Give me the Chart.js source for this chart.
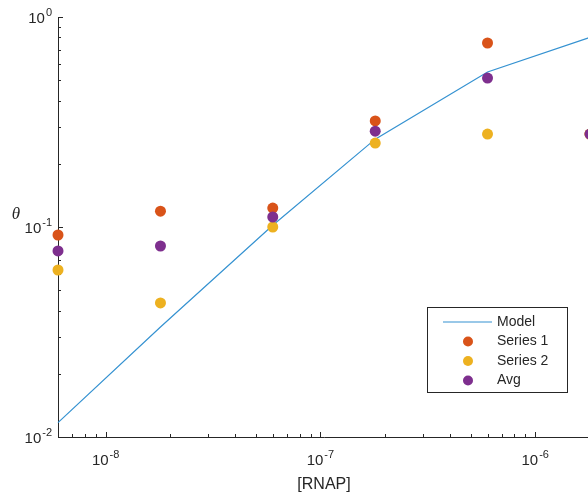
<!DOCTYPE html>
<html>
<head>
<meta charset="utf-8">
<script src="https://cdn.jsdelivr.net/npm/chart.js@4"></script>
<style>
  html, body { margin: 0; padding: 0; background: #fff; overflow: hidden; }
  #wrap { width: 600px; height: 497px; }
</style>
</head>
<body>
<div id="wrap"><canvas id="thetaChart" width="600" height="497"></canvas></div>
<script>
/* Data */
const rnap = [6e-9, 1.8e-8, 6e-8, 1.8e-7, 6e-7, 1.8e-6];
const model = [0.0117, 0.0334, 0.102, 0.262, 0.547, 0.80];
const series1 = [0.0916, 0.119, 0.123, 0.320, 0.752, 0.277];
const series2 = [0.0624, 0.0435, 0.100, 0.251, 0.277, 0.277];
const avg = [0.0769, 0.0812, 0.1116, 0.286, 0.512, 0.277];

const xTicks = [-8, -7, -6];
const yTicks = [-2, -1, 0];

const C_MODEL = '#3592d1';
const C_S1 = '#D95319';
const C_S2 = '#EDB120';
const C_AVG = '#7E2F8E';
const INK = '#262626';

const pts = (ys) => rnap.map((x, i) => ({x: x, y: ys[i]}));

// draws 10^n with a raised exponent; align = 'center' | 'right'
function drawPow(ctx, n, x, y, align) {
    const base = '10', exp = String(n);
    ctx.font = '15px "Liberation Sans", Arial, sans-serif';
    const wb = ctx.measureText(base).width;
    ctx.font = '11px "Liberation Sans", Arial, sans-serif';
    const we = ctx.measureText(exp).width;
    const w = wb + we + 1;
    let x0 = align === 'right' ? x - w : x - w / 2;
    ctx.fillStyle = INK;
    ctx.textAlign = 'left';
    ctx.textBaseline = 'alphabetic';
    ctx.font = '15px "Liberation Sans", Arial, sans-serif';
    ctx.fillText(base, x0, y);
    ctx.font = '11px "Liberation Sans", Arial, sans-serif';
    ctx.fillText(exp, x0 + wb + 1, y - 7);
}

const axesPlugin = {
    id: 'matlabAxes',
    beforeDatasetsDraw(chart) {
        const {ctx, chartArea: a, scales: {x, y}} = chart;
        ctx.save();
        ctx.strokeStyle = INK;
        ctx.lineWidth = 1;
        ctx.beginPath();
        ctx.moveTo(a.left + 0.5, a.top);
        ctx.lineTo(a.left + 0.5, a.bottom + 0.5);
        ctx.lineTo(a.right, a.bottom + 0.5);
        ctx.stroke();
        // ticks (inward), major + minor
        ctx.beginPath();
        for (let e = -9; e <= -5; e++) {
            for (let m = 1; m <= 9; m++) {
                const v = m * Math.pow(10, e);
                const px = Math.round(x.getPixelForValue(v)) + 0.5;
                if (px < a.left || px > a.right) continue;
                const len = m === 1 ? 5 : 3;
                ctx.moveTo(px, a.bottom);
                ctx.lineTo(px, a.bottom - len);
            }
        }
        for (let e = -2; e <= 0; e++) {
            for (let m = 1; m <= 9; m++) {
                const v = m * Math.pow(10, e);
                const py = Math.round(y.getPixelForValue(v)) + 0.5;
                if (py < a.top - 1 || py > a.bottom + 1) continue;
                const len = m === 1 ? 5 : 3;
                ctx.moveTo(a.left, py);
                ctx.lineTo(a.left + len, py);
            }
        }
        ctx.stroke();
        ctx.restore();
    },
    afterDraw(chart) {
        const {ctx, chartArea: a, scales: {x, y}} = chart;
        ctx.save();
        xTicks.forEach(n => drawPow(ctx, n, x.getPixelForValue(Math.pow(10, n)), a.bottom + 28, 'center'));
        yTicks.forEach(n => drawPow(ctx, n, a.left - 6, y.getPixelForValue(Math.pow(10, n)) + 6, 'right'));
        ctx.fillStyle = INK;
        ctx.textAlign = 'center';
        ctx.textBaseline = 'middle';
        ctx.font = '16px "Liberation Sans", Arial, sans-serif';
        ctx.fillText('[RNAP]', (a.left + a.right) / 2, a.bottom + 48);
        ctx.font = 'italic 17px "Liberation Serif", "Times New Roman", serif';
        ctx.fillText('\u03B8', 16, 215);

        // legend box
        const lx = 427, ly = 307, lw = 140, lh = 85;
        ctx.fillStyle = '#fff';
        ctx.fillRect(lx, ly, lw, lh);
        ctx.strokeStyle = INK;
        ctx.lineWidth = 1;
        ctx.strokeRect(lx + 0.5, ly + 0.5, lw, lh);
        const rows = [
            {t: 'Model', c: C_MODEL, line: true},
            {t: 'Series 1', c: C_S1},
            {t: 'Series 2', c: C_S2},
            {t: 'Avg', c: C_AVG}
        ];
        ctx.font = '14px "Liberation Sans", Arial, sans-serif';
        ctx.textAlign = 'left';
        rows.forEach((r, i) => {
            const ry = ly + 15 + i * 19.5;
            if (r.line) {
                ctx.strokeStyle = r.c;
                ctx.lineWidth = 1.2;
                ctx.beginPath();
                ctx.moveTo(443, ry);
                ctx.lineTo(492, ry);
                ctx.stroke();
            } else {
                ctx.fillStyle = r.c;
                ctx.beginPath();
                ctx.arc(468, ry, 5, 0, Math.PI * 2);
                ctx.fill();
            }
            ctx.fillStyle = INK;
            ctx.fillText(r.t, 497, ry);
        });
        ctx.restore();
    }
};

/* Create chart */
const my_chart = new Chart('thetaChart', {
    type: 'scatter',
    data: {
        datasets: [
            {
                label: 'Model',
                data: pts(model),
                showLine: true,
                borderColor: C_MODEL,
                borderWidth: 1.2,
                pointRadius: 0,
                fill: false,
                clip: false,
                order: 3,
            },
            {
                label: 'Series 1',
                data: pts(series1),
                backgroundColor: C_S1,
                borderWidth: 0,
                pointRadius: 5.5,
                clip: false,
                order: 2,
            },
            {
                label: 'Series 2',
                data: pts(series2),
                backgroundColor: C_S2,
                borderWidth: 0,
                pointRadius: 5.5,
                clip: false,
                order: 1,
            },
            {
                label: 'Avg',
                data: pts(avg),
                backgroundColor: C_AVG,
                borderWidth: 0,
                pointRadius: 5.5,
                clip: false,
                order: 0,
            }
        ]
    },
    plugins: [axesPlugin],
    options: {
        responsive: false,
        animation: false,
        layout: {
            padding: {left: 58, right: 10, top: 17, bottom: 60}
        },
        scales: {
            x: {
                type: 'logarithmic',
                min: 6e-9,
                max: 1.8e-6,
                display: false,
            },
            y: {
                type: 'logarithmic',
                min: 0.01,
                max: 1,
                display: false,
            }
        },
        plugins: {
            legend: {display: false},
            tooltip: {enabled: false}
        }
    }
});
</script>
</body>
</html>
